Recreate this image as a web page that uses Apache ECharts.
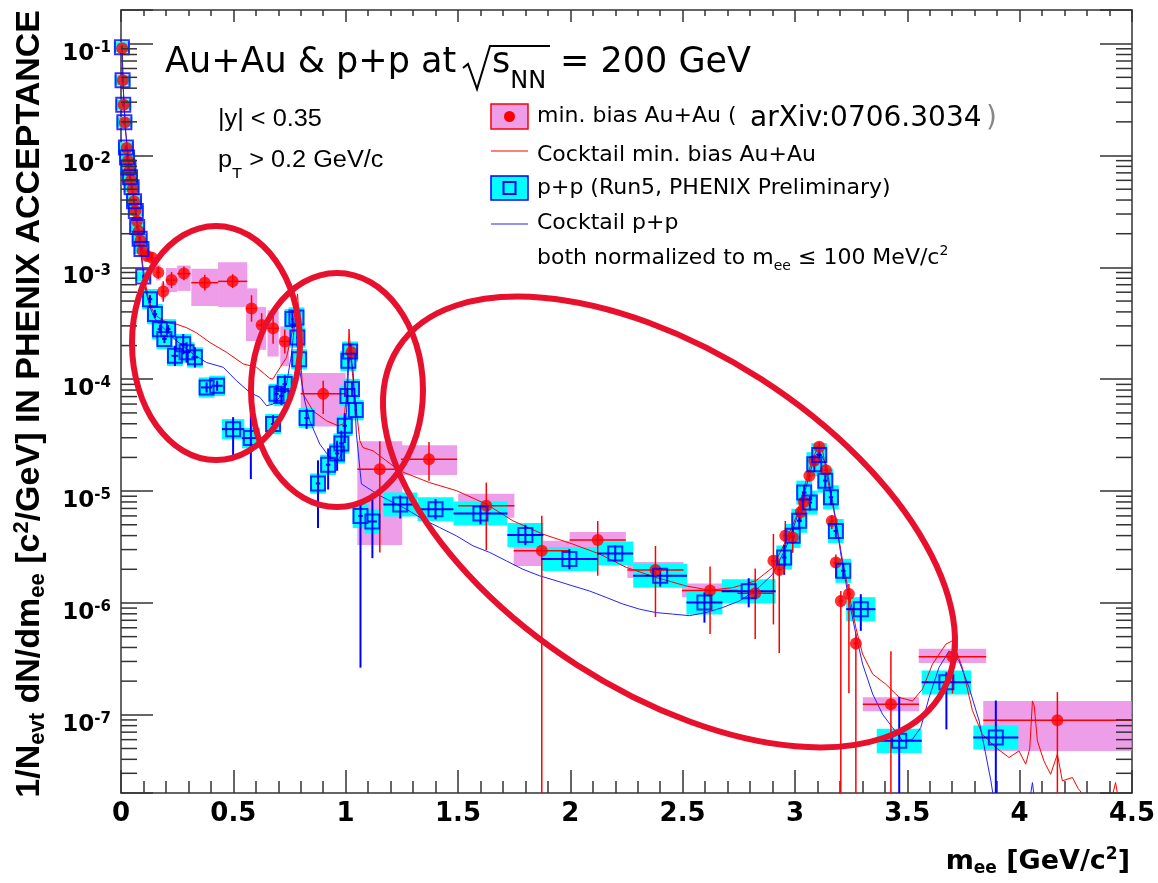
<!DOCTYPE html>
<html><head><meta charset="utf-8">
<script src="https://cdn.jsdelivr.net/npm/echarts@6/dist/echarts.min.js"></script>
<style>html,body{margin:0;padding:0;background:#fff}#c{width:1158px;height:883px}</style>
</head><body><div id="c"></div>
<script>
// ---------------- DATA ----------------
// Au+Au min. bias (red filled circles)
const auM = [0.005,0.008,0.012,0.017,0.025,0.032,0.038,0.045,0.052,0.058,0.064,0.071,0.079,0.087,0.096,0.115,0.138,
  0.166,0.188,0.225,0.28,0.373,0.497,0.581,0.626,0.677,0.729,
  0.900,1.026,1.152,1.371,1.626,1.873,2.122,2.379,2.622,2.823,
  2.904,2.930,2.957,2.990,3.026,3.040,3.064,3.086,3.108,3.138,3.164,3.182,3.204,3.240,3.271,
  3.427,3.701,4.168];
const auY = [0.091,0.047,0.0285,0.0197,0.0117,0.0090,0.0073,0.0060,0.0050,0.0039,0.0032,0.0026,0.0021,0.00173,0.00141,0.00127,0.00122,
  9.0e-4,6.1e-4,7.7e-4,8.8e-4,7.3e-4,7.5e-4,4.3e-4,3.05e-4,2.85e-4,2.18e-4,
  7.4e-5,1.74e-4,1.57e-5,1.93e-5,7.4e-6,2.93e-6,3.65e-6,1.97e-6,1.29e-6,1.22e-6,
  2.38e-6,1.98e-6,3.98e-6,3.85e-6,6.5e-6,8.0e-6,1.37e-5,1.87e-5,2.49e-5,1.54e-5,5.4e-6,2.3e-6,1.04e-6,1.2e-6,4.34e-7,
  1.24e-7,3.3e-7,8.96e-8];
const auDx = [0.003,0.003,0.003,0.003,0.003,0.003,0.003,0.003,0.003,0.003,0.003,0.003,0.003,0.003,0.004,0.01,0.01,
  0.01,0.01,0.025,0.03,0.06,0.065,0.025,0.02,0.025,0.02,
  0.1,0.01,0.1,0.125,0.125,0.125,0.125,0.125,0.125,0.08,
  0.01,0.01,0.01,0.01,0.01,0.01,0.01,0.01,0.01,0.01,0.01,0.01,0.01,0.01,0.01,
  0.125,0.15,0.33];
const auStatUp = [0.04,0.04,0.04,0.04,0.04,0.04,0.04,0.04,0.04,0.06,0.06,0.06,0.06,0.09,0.09,0.11,0.11,
  0.13,0.23,0.18,0.16,0.18,0.16,0.31,0.28,0.36,0.28,
  0.31,0.18,0.78,0.42,0.61,1.06,0.48,0.64,0.64,0.67,
  0.74,0.23,0.36,0.23,0.18,0.13,0.11,0.09,0.09,0.09,0.13,0.18,0.23,0.23,0.23,
  1.98,0.31,0.78];
const auStatDn = [0.04,0.04,0.04,0.04,0.04,0.04,0.04,0.04,0.04,0.06,0.06,0.06,0.06,0.08,0.08,0.1,0.1,
  0.12,0.19,0.15,0.13,0.15,0.13,0.24,0.22,0.27,0.22,
  0.34,0.15,0.82,0.36,0.6,1,0.52,0.62,0.59,0.61,
  0.73,0.82,0.46,0.27,0.19,0.15,0.1,0.08,0.08,0.08,0.15,0.27,1,0.87,1,
  1,0.53,1];
const auSysUp = [0.09,0.09,0.09,0.09,0.09,0.09,0.09,0.09,0.09,0.09,0.09,0.11,0.11,0.11,0.11,0.13,0.13,
  0.18,0.18,0.28,0.18,0.33,0.48,0.51,0.45,0.45,0.36,
  0.54,0.18,0.78,0.33,0.28,0.23,0.18,0.18,0.16,0.16,
  0.13,0.13,0.13,0.13,0.11,0.11,0.11,0.11,0.11,0.11,0.11,0.11,0.13,0.13,0.13,
  0.16,0.18,0.48];
const auSysDn = [0.08,0.08,0.08,0.08,0.08,0.08,0.08,0.08,0.08,0.08,0.08,0.1,0.1,0.1,0.1,0.12,0.12,
  0.15,0.15,0.22,0.3,0.38,0.41,0.49,0.4,0.44,0.4,
  0.49,0.15,0.79,0.28,0.22,0.27,0.19,0.15,0.13,0.13,
  0.12,0.12,0.12,0.12,0.1,0.1,0.1,0.1,0.1,0.1,0.1,0.1,0.12,0.12,0.12,
  0.13,0.12,0.47];

// p+p (blue open squares)
const ppM = [0.004,0.007,0.010,0.015,0.022,0.027,0.033,0.040,0.047,0.058,0.066,0.072,0.083,0.091,0.099,
  0.129,0.151,0.173,0.193,0.210,0.240,0.277,0.292,0.329,0.381,0.428,0.499,0.578,
  0.677,0.692,0.714,0.729,0.763,0.781,0.785,0.793,0.826,0.877,0.922,0.962,0.981,0.996,
  1.008,1.012,1.020,1.028,1.045,1.066,1.119,1.243,1.400,1.600,1.800,1.996,2.200,2.400,2.597,2.794,
  2.952,2.990,3.019,3.041,3.066,3.086,3.108,3.135,3.160,3.182,3.215,3.293,3.464,3.674,3.894];
const ppY = [0.093,0.047,0.0285,0.0198,0.0118,0.0096,0.0078,0.0064,0.0052,0.0039,0.0032,0.0023,0.0018,0.00146,8.3e-4,
  5.2e-4,3.83e-4,2.8e-4,2.29e-4,2.8e-4,1.62e-4,2.06e-4,1.74e-4,1.57e-4,8.45e-5,8.75e-5,3.58e-5,2.98e-5,
  3.98e-5,7.4e-5,7.1e-5,9.06e-5,3.45e-4,3.57e-4,2.36e-4,1.51e-4,4.5e-5,1.17e-5,1.72e-5,2.17e-5,2.67e-5,3.84e-5,
  7.1e-5,1.46e-4,1.77e-4,8.2e-5,5.3e-5,6.0e-6,5.35e-6,7.6e-6,6.9e-6,6.3e-6,4.06e-6,2.47e-6,2.77e-6,1.75e-6,1.01e-6,1.27e-6,
  2.55e-6,3.98e-6,5.43e-6,9.7e-6,7.9e-6,1.74e-5,2.1e-5,1.24e-5,8.8e-6,4.4e-6,1.94e-6,8.8e-7,5.85e-8,1.95e-7,6.27e-8];
const ppDx = [0.003,0.003,0.003,0.003,0.003,0.003,0.003,0.003,0.003,0.003,0.003,0.003,0.003,0.003,0.003,
  0.01,0.01,0.01,0.01,0.01,0.015,0.015,0.015,0.015,0.025,0.025,0.05,0.04,
  0.01,0.01,0.01,0.01,0.005,0.005,0.005,0.005,0.01,0.01,0.01,0.01,0.01,0.01,
  0.005,0.005,0.005,0.005,0.005,0.01,0.02,0.075,0.08,0.12,0.08,0.125,0.08,0.12,0.08,0.12,
  0.01,0.01,0.01,0.01,0.01,0.01,0.01,0.01,0.01,0.01,0.01,0.065,0.1,0.11,0.1];
const ppStatUp = [0.04,0.04,0.04,0.04,0.04,0.04,0.04,0.04,0.04,0.04,0.04,0.04,0.04,0.04,0.04,
  0.09,0.09,0.09,0.09,0.09,0.23,0.23,0.23,0.23,0.11,0.11,0.28,0.64,
  0.2,0.2,0.2,0.2,0.2,0.2,0.2,0.2,0.2,0.61,0.4,0.3,0.3,0.3,
  0.15,0.15,0.15,0.15,0.15,0.28,0.78,0.2,0.23,0.16,0.23,0.23,0.18,0.16,0.23,0.31,
  0.3,0.15,0.15,0.15,0.15,0.15,0.15,0.15,0.15,0.15,0.15,0.36,1.48,0.23,1.14];
const ppStatDn = [0.04,0.04,0.04,0.04,0.04,0.04,0.04,0.04,0.04,0.04,0.04,0.04,0.04,0.04,0.04,
  0.08,0.08,0.08,0.08,0.08,0.19,0.19,0.19,0.19,0.1,0.1,0.44,0.57,
  0.17,0.17,0.17,0.17,0.17,0.17,0.17,0.17,0.2,0.6,0.4,0.3,0.3,0.3,
  0.15,0.15,0.15,0.15,0.15,0.956,0.53,0.25,0.19,0.2,0.19,0.19,0.15,0.2,0.34,0.28,
  0.3,0.15,0.15,0.15,0.15,0.15,0.15,0.15,0.15,0.15,0.15,0.36,1,0.62,1];
const ppSysUp = [0.11,0.11,0.11,0.11,0.11,0.11,0.11,0.11,0.11,0.11,0.11,0.11,0.11,0.11,0.11,
  0.23,0.23,0.23,0.23,0.23,0.23,0.23,0.23,0.23,0.23,0.23,0.23,0.23,
  0.23,0.23,0.23,0.23,0.23,0.23,0.23,0.23,0.23,0.23,0.23,0.23,0.23,0.23,
  0.23,0.23,0.23,0.23,0.23,0.28,0.28,0.28,0.28,0.28,0.28,0.28,0.28,0.28,0.28,0.28,
  0.28,0.28,0.28,0.28,0.28,0.28,0.28,0.28,0.28,0.28,0.28,0.28,0.28,0.28,0.28];
const ppSysDn = [0.1,0.1,0.1,0.1,0.1,0.1,0.1,0.1,0.1,0.1,0.1,0.1,0.1,0.1,0.1,
  0.19,0.19,0.19,0.19,0.19,0.19,0.19,0.19,0.19,0.19,0.19,0.19,0.19,
  0.19,0.19,0.19,0.19,0.19,0.19,0.19,0.19,0.19,0.19,0.19,0.19,0.19,0.19,
  0.19,0.19,0.19,0.19,0.19,0.22,0.22,0.22,0.22,0.22,0.22,0.22,0.22,0.22,0.22,0.22,
  0.22,0.22,0.22,0.22,0.22,0.22,0.22,0.22,0.22,0.22,0.22,0.22,0.22,0.22,0.22];

// Cocktail min. bias Au+Au (red line)
const ccAuM = [0.005,0.010,0.020,0.030,0.040,0.050,0.060,0.070,0.080,0.090,0.100,0.110,0.120,0.135,0.150,0.180,0.210,0.248,0.290,0.336,
  0.396,0.470,0.544,0.603,0.640,0.662,0.675,0.692,0.737,0.763,0.776,0.786,0.795,0.803,0.810,0.855,0.915,0.966,0.990,1.005,
  1.015,1.025,1.040,1.063,1.077,1.122,1.24,1.374,1.493,1.626,1.744,1.878,2.011,2.13,2.249,2.382,2.515,2.619,2.723,2.826,
  2.9,2.96,3.004,3.041,3.071,3.1,3.123,3.152,3.182,3.212,3.241,3.271,3.301,3.346,3.404,3.464,3.523,3.568,3.612,3.672,
  3.700,3.745,3.79,3.834,3.894,3.953,3.997,4.027,4.045,4.057,4.065,4.079,4.108,4.138,4.168,4.19,4.235,4.26,4.294,4.35,
  4.41,4.427,4.445,4.5];
const ccAuY = [0.088,0.040,0.017,0.0105,0.0072,0.0052,0.0038,0.0028,0.0019,0.00135,0.00095,0.00070,0.00055,0.00044,0.00038,0.00034,0.00032,0.00031,0.00029,0.00026,
  2.13e-4,1.74e-4,1.37e-4,1.28e-4,1.11e-4,1.02e-4,1.0e-4,1.13e-4,1.57e-4,2.72e-4,4.2e-4,5.8e-4,3.0e-4,1.2e-4,7.4e-5,5.2e-5,4.25e-5,3.84e-5,4.0e-5,7.5e-5,
  2.81e-4,1.4e-4,7.4e-5,2.82e-5,2.45e-5,2.29e-5,1.52e-5,1.19e-5,1.01e-5,7.65e-6,5.43e-6,4.12e-6,3.36e-6,2.74e-6,2.08e-6,1.69e-6,1.42e-6,1.30e-6,1.37e-6,1.58e-6,
  2.07e-6,3.6e-6,5.8e-6,1.08e-5,1.74e-5,2.45e-5,2.29e-5,1.08e-5,5.43e-6,2.38e-6,1.2e-6,6.0e-7,3.49e-7,2.31e-7,1.88e-7,1.43e-7,1.33e-7,1.7e-7,2.84e-7,4.29e-7,
  4.58e-7,2.65e-7,1.09e-7,6.7e-8,5.1e-8,4.15e-8,4.76e-8,3.62e-8,5.0e-8,1.33e-7,1.2e-7,5.85e-8,3.87e-8,2.94e-8,4.45e-8,2.57e-8,2.75e-8,2.2e-8,1.8e-8,1.5e-8,
  1.8e-8,2.48e-8,1.5e-8,1.5e-8];

// Cocktail p+p (blue line)
const ccPpM = [0.005,0.010,0.020,0.030,0.040,0.050,0.060,0.070,0.080,0.090,0.100,0.110,0.129,0.150,0.173,0.21,0.248,0.321,0.381,0.455,
  0.514,0.574,0.618,0.648,0.677,0.707,0.737,0.759,0.772,0.780,0.788,0.796,0.818,0.84,0.885,0.929,0.966,0.988,1.004,1.018,
  1.026,1.033,1.048,1.07,1.077,1.152,1.27,1.344,1.418,1.493,1.567,1.641,1.715,1.789,1.863,1.937,2.011,2.085,2.16,2.233,
  2.308,2.382,2.456,2.53,2.604,2.678,2.752,2.826,2.9,2.96,3.004,3.049,3.086,3.108,3.138,3.175,3.204,3.241,3.271,3.301,
  3.346,3.39,3.434,3.479,3.523,3.56,3.597,3.641,3.686,3.73,3.775,3.82,3.849,3.872,3.89,4.04,4.057,4.07,4.5];
const ccPpY = [0.09,0.040,0.017,0.0105,0.0070,0.0050,0.0036,0.0026,0.0018,0.00125,0.00085,0.00062,0.00044,0.00035,0.00031,0.00026,0.00022,1.68e-4,1.41e-4,1.28e-4,
  9.7e-5,7.6e-5,6.9e-5,5.8e-5,6.0e-5,6.9e-5,9.06e-5,1.68e-4,3.0e-4,4.0e-4,2.5e-4,1.19e-4,6.4e-5,4.25e-5,2.63e-5,2.0e-5,1.87e-5,2.29e-5,5.2e-5,2.1e-4,
  1.5e-4,1.19e-4,3.23e-5,1.16e-5,1.16e-5,9.1e-6,6.9e-6,5.6e-6,4.73e-6,3.98e-6,3.24e-6,2.83e-6,2.38e-6,2.0e-6,1.75e-6,1.58e-6,1.42e-6,1.28e-6,1.12e-6,9.8e-7,
  8.8e-7,8.2e-7,7.95e-7,7.7e-7,8.2e-7,9.1e-7,1.04e-6,1.3e-6,1.8e-6,3.13e-6,5.43e-6,1.08e-5,2.0e-5,2.29e-5,1.74e-5,6.67e-6,2.74e-6,1.04e-6,5.26e-7,2.84e-7,
  1.53e-7,1.01e-7,7.7e-8,5.85e-8,6.05e-8,7.7e-8,1.43e-7,2.65e-7,3.73e-7,3.04e-7,1.75e-7,8.8e-8,4.45e-8,2.57e-8,1.5e-8,1.5e-8,2.48e-8,1.5e-8,1.5e-8];

// axis ranges
const Y_MIN = 2e-8, Y_MAX = 0.2;
const X_MIN = 0, X_MAX = 4.5, X_STEP = 0.5;

// ---------------- CHART ----------------
const FONT = '"DejaVu Sans", sans-serif';
const LFONT = '"Liberation Sans", Arial, sans-serif';
const C_PINK = '#ee9ee8', C_CYAN = '#00ffff', C_RED = '#ff0000', C_BLUE = '#0000ff', C_ELL = '#e8112d', C_AX = '#333';

const auRows = auM.map((m, i) => [m, auY[i], auDx[i], auStatUp[i], auStatDn[i], auSysUp[i], auSysDn[i]]);
const ppRows = ppM.map((m, i) => [m, ppY[i], ppDx[i], ppStatUp[i], ppStatDn[i], ppSysUp[i], ppSysDn[i]]);

function boxRenderer(minHalf, fill) {
  return function (params, api) {
    const m = api.value(0), v = api.value(1);
    const dx = Math.max(api.value(2), minHalf);
    const hi = v * (1 + api.value(5));
    const lo = Math.max(v * (1 - api.value(6)), Y_MIN);
    const p1 = api.coord([m - dx, hi]), p2 = api.coord([m + dx, lo]);
    return { type: 'rect', shape: { x: p1[0], y: p1[1], width: p2[0] - p1[0], height: p2[1] - p1[1] },
      style: { fill: fill } };
  };
}
function errRenderer(color, width) {
  return function (params, api) {
    const m = api.value(0), v = api.value(1), dx = api.value(2);
    const hi = v * (1 + api.value(3));
    const lo = Math.max(v * (1 - api.value(4)), Y_MIN);
    const a = api.coord([m - dx, v]), b = api.coord([m + dx, v]);
    const t = api.coord([m, hi]), d = api.coord([m, lo]);
    return { type: 'group', children: [
      { type: 'line', shape: { x1: a[0], y1: a[1], x2: b[0], y2: b[1] }, style: { stroke: color, lineWidth: width } },
      { type: 'line', shape: { x1: t[0], y1: t[1], x2: d[0], y2: d[1] }, style: { stroke: color, lineWidth: width } }
    ] };
  };
}

// minor ticks of the log axis (2..9 x 10^n)
const minorVals = [];
for (let e = -8; e <= -1; e++) for (let k = 2; k <= 9; k++) {
  const v = k * Math.pow(10, e);
  if (v > Y_MIN * 1.001 && v < Y_MAX * 0.999) minorVals.push([0, v]);
}

function fmtY(v) {
  const e = Math.log10(v), r = Math.round(e);
  if (Math.abs(e - r) > 1e-6) return '';
  return '{b|10}{s|' + r + '}';
}

const yAxisBase = {
  type: 'log', logBase: 10, min: Y_MIN, max: Y_MAX,
  axisLine: { show: true, onZero: false, lineStyle: { color: C_AX, width: 1.5 } },
  axisTick: { show: true, inside: true, length: 32, lineStyle: { color: C_AX, width: 1.5 } },
  splitLine: { show: false }, minorTick: { show: false }
};
const xAxisBase = {
  type: 'value', min: X_MIN, max: X_MAX, interval: X_STEP,
  axisLine: { show: true, onZero: false, lineStyle: { color: C_AX, width: 1.5 } },
  splitLine: { show: false }
};

function txt(x, y, text, font, extra) {
  return Object.assign({ type: 'text', x: x, y: y, z: 50,
    style: { text: text, font: font, fill: '#000', textAlign: 'left', textVerticalAlign: 'middle' } }, extra || {});
}

const option = {
  animation: false,
  backgroundColor: '#fff',
  grid: { left: 121, right: 25, top: 10, bottom: 90 },
  xAxis: [
    Object.assign({}, xAxisBase, {
      position: 'bottom',
      axisTick: { show: true, inside: true, length: 23, lineStyle: { color: C_AX, width: 1.5 } },
      minorTick: { show: true, splitNumber: 5, length: 12, lineStyle: { color: C_AX, width: 1.5 } },
      axisLabel: { margin: 8, color: '#000', fontFamily: FONT, fontWeight: 'bold', fontSize: 26 }
    }),
    Object.assign({}, xAxisBase, {
      position: 'top',
      axisTick: { show: true, inside: true, length: 12, lineStyle: { color: C_AX, width: 1.5 } },
      minorTick: { show: true, splitNumber: 5, length: 6, lineStyle: { color: C_AX, width: 1.5 } },
      axisLabel: { show: false }
    })
  ],
  yAxis: [
    Object.assign({}, yAxisBase, {
      position: 'left',
      axisLabel: { margin: 10, color: '#000', formatter: fmtY, rich: {
        b: { fontFamily: FONT, fontWeight: 'bold', fontSize: 23, color: '#000', padding: [20, 0, 0, 0] },
        s: { fontFamily: FONT, fontWeight: 'bold', fontSize: 15, color: '#000', padding: [8, 0, 0, 0] }
      } }
    }),
    Object.assign({}, yAxisBase, { position: 'right', axisLabel: { show: false } })
  ],
  series: [
    { type: 'custom', name: 'minorTicks', data: minorVals, z: 6, silent: true,
      renderItem: function (params, api) {
        const cs = params.coordSys;
        const y = api.coord([0, api.value(1)])[1];
        const st = { stroke: C_AX, lineWidth: 1.5 };
        return { type: 'group', children: [
          { type: 'line', shape: { x1: cs.x, y1: y, x2: cs.x + 16, y2: y }, style: st },
          { type: 'line', shape: { x1: cs.x + cs.width - 16, y1: y, x2: cs.x + cs.width, y2: y }, style: st }
        ] };
      } },
    { type: 'custom', name: 'auSys', data: auRows, z: 1, silent: true, renderItem: boxRenderer(0.006, C_PINK) },
    { type: 'custom', name: 'ppSys', data: ppRows, z: 2, silent: true, renderItem: boxRenderer(0.035, C_CYAN) },
    { type: 'line', name: 'Cocktail min. bias Au+Au', data: ccAuM.map((m, i) => [m, ccAuY[i]]), z: 3,
      showSymbol: false, symbol: 'none', clip: true, lineStyle: { color: C_RED, width: 1 } },
    { type: 'line', name: 'Cocktail p+p', data: ccPpM.map((m, i) => [m, ccPpY[i]]), z: 3,
      showSymbol: false, symbol: 'none', clip: true, lineStyle: { color: '#2222ff', width: 1 } },
    { type: 'custom', name: 'auErr', data: auRows, z: 4, silent: true, renderItem: errRenderer(C_RED, 1.5) },
    { type: 'custom', name: 'ppErr', data: ppRows, z: 4, silent: true, renderItem: errRenderer(C_BLUE, 2) },
    { type: 'scatter', name: 'min. bias Au+Au', data: auRows.map(r => [r[0], r[1]]), z: 5,
      symbol: 'circle', symbolSize: 12, itemStyle: { color: C_RED } },
    { type: 'scatter', name: 'p+p', data: ppRows.map(r => [r[0], r[1]]), z: 5,
      symbol: 'rect', symbolSize: 14, itemStyle: { color: 'rgba(0,0,0,0)', borderColor: C_BLUE, borderWidth: 2 } }
  ],
  graphic: [
    // annotation ellipses
    { type: 'ellipse', z: 100, shape: { cx: 216, cy: 343, rx: 84, ry: 117 }, style: { fill: 'none', stroke: C_ELL, lineWidth: 6 } },
    { type: 'ellipse', z: 100, shape: { cx: 337, cy: 390, rx: 86, ry: 117 }, style: { fill: 'none', stroke: C_ELL, lineWidth: 6 } },
    { type: 'ellipse', z: 100, x: 669, y: 522, rotation: -0.572, shape: { cx: 0, cy: 0, rx: 322, ry: 170 }, style: { fill: 'none', stroke: C_ELL, lineWidth: 6 } },
    // title
    txt(165, 63, 'Au+Au & p+p at', '35px ' + FONT),
    { type: 'polyline', z: 50, shape: { points: [[463, 68], [468, 64], [477, 89], [490, 46], [550, 46]] }, style: { fill: 'none', stroke: '#000', lineWidth: 2 } },
    txt(492, 63, '{a|s}{b|NN}', '35px ' + FONT, { style: { text: '{a|s}{b|NN}', font: '35px ' + FONT, fill: '#000', textAlign: 'left', textVerticalAlign: 'middle',
      rich: { a: { fontSize: 35, fontFamily: FONT }, b: { fontSize: 24, fontFamily: FONT, padding: [38, 0, 0, 0] } } } }),
    txt(560, 63, '= 200 GeV', '35px ' + FONT),
    // kinematic cuts
    txt(218, 120, '|y| < 0.35', '23px ' + LFONT, { scaleX: 1.1 }),
    { type: 'text', x: 218, y: 161, z: 50, scaleX: 1.1, style: { text: '{a|p}{b|T}{a| > 0.2 GeV/c}', font: '23px ' + LFONT, fill: '#000', textAlign: 'left', textVerticalAlign: 'middle',
      rich: { a: { fontSize: 23, fontFamily: LFONT }, b: { fontSize: 15, fontFamily: LFONT, padding: [26, 0, 0, 0] } } } },
    // legend
    { type: 'rect', z: 50, shape: { x: 491, y: 104, width: 37, height: 25 }, style: { fill: C_PINK, stroke: C_RED, lineWidth: 1.5 } },
    { type: 'circle', z: 51, shape: { cx: 509.5, cy: 116.5, r: 5.5 }, style: { fill: C_RED } },
    txt(537, 116, 'min. bias Au+Au (', '22px ' + FONT),
    txt(750, 119, 'arXiv:0706.3034', '28px ' + FONT),
    { type: 'text', x: 986, y: 119, z: 50, style: { text: ')', font: '28px ' + FONT, fill: '#888', textAlign: 'left', textVerticalAlign: 'middle' } },
    { type: 'line', z: 50, shape: { x1: 491, y1: 151, x2: 528, y2: 151 }, style: { stroke: C_RED, lineWidth: 1.2 } },
    txt(537, 155, 'Cocktail min. bias Au+Au', '22px ' + FONT),
    { type: 'rect', z: 50, shape: { x: 491, y: 176, width: 37, height: 24 }, style: { fill: C_CYAN, stroke: C_BLUE, lineWidth: 1.5 } },
    { type: 'rect', z: 51, shape: { x: 503.5, y: 182, width: 12, height: 12 }, style: { fill: 'none', stroke: C_BLUE, lineWidth: 2 } },
    txt(537, 188, 'p+p (Run5, PHENIX Preliminary)', '22px ' + FONT),
    { type: 'line', z: 50, shape: { x1: 491, y1: 224, x2: 528, y2: 224 }, style: { stroke: '#2222ff', lineWidth: 1.2 } },
    txt(537, 223, 'Cocktail p+p', '22px ' + FONT),
    { type: 'text', x: 537, y: 258, z: 50, style: { text: '{a|both normalized to m}{b|ee}{a| ≤ 100 MeV/c}{c|2}', font: '22px ' + FONT, fill: '#000', textAlign: 'left', textVerticalAlign: 'middle',
      rich: { a: { fontSize: 22, fontFamily: FONT }, b: { fontSize: 14, fontFamily: FONT, padding: [16, 0, 0, 0] }, c: { fontSize: 14, fontFamily: FONT, padding: [0, 0, 14, 0] } } } },
    // axis titles
    { type: 'text', x: 30, y: 10, rotation: Math.PI / 2, z: 50, style: {
      text: '{t|1/N}{s|evt}{t| dN/dm}{s|ee}{t| [c}{p|2}{t|/GeV] IN PHENIX ACCEPTANCE}',
      font: 'bold 34px ' + LFONT, fill: '#000', textAlign: 'right', textVerticalAlign: 'middle',
      rich: {
        t: { fontSize: 34, fontWeight: 'bold', fontFamily: LFONT },
        s: { fontSize: 22, fontWeight: 'bold', fontFamily: LFONT, padding: [16, 0, 0, 0] },
        p: { fontSize: 22, fontWeight: 'bold', fontFamily: LFONT, padding: [0, 0, 16, 0] }
      } } },
    { type: 'text', x: 1130, y: 862, z: 50, style: {
      text: '{t|m}{s|ee}{t| [GeV/c}{p|2}{t|]}',
      font: 'bold 27px ' + FONT, fill: '#000', textAlign: 'right', textVerticalAlign: 'middle',
      rich: {
        t: { fontSize: 27, fontWeight: 'bold', fontFamily: FONT },
        s: { fontSize: 17, fontWeight: 'bold', fontFamily: FONT, padding: [14, 0, 0, 0] },
        p: { fontSize: 17, fontWeight: 'bold', fontFamily: FONT, padding: [0, 0, 14, 0] }
      } } }
  ]
};

const chart = echarts.init(document.getElementById('c'), null, { renderer: 'canvas' });
chart.setOption(option);
</script>
</body></html>
